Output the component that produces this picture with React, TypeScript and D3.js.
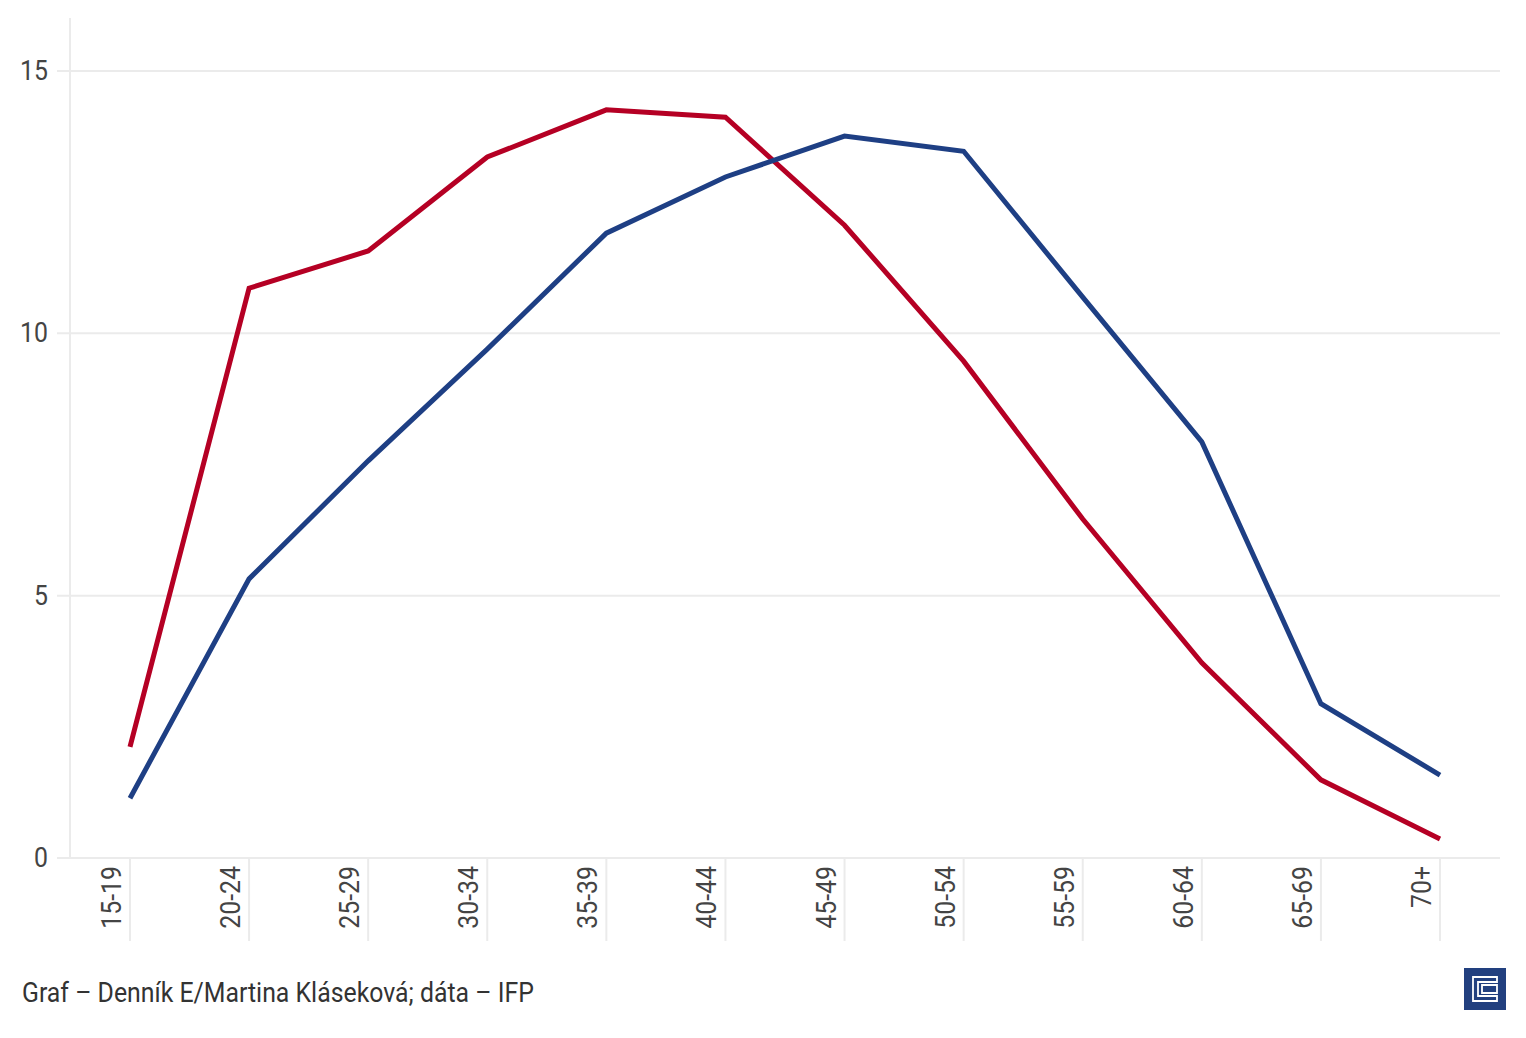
import * as d3 from "d3";

const categories = ["15-19", "20-24", "25-29", "30-34", "35-39", "40-44", "45-49", "50-54", "55-59", "60-64", "65-69", "70+"];
const redValues = [2.12, 10.86, 11.57, 13.36, 14.26, 14.12, 12.06, 9.47, 6.46, 3.72, 1.49, 0.36];
const blueValues = [1.14, 5.32, 7.57, 9.7, 11.91, 12.98, 13.76, 13.47, 10.69, 7.93, 2.94, 1.58];
const yTicks = [0, 5, 10, 15];
const source = "Graf – Denník E/Martina Kláseková; dáta – IFP";

const W = 1526;
const H = 1038;
const FONT = "Roboto, 'Noto Sans', sans-serif";
const SX = 0.92;

const App = () => {
  const x = d3
    .scalePoint<string>()
    .domain(categories)
    .range([130, 1440]);

  const y = d3.scaleLinear().domain([0, 15]).range([858, 71]);

  const line = d3
    .line<number>()
    .x((_, i) => x(categories[i]) as number)
    .y((d) => y(d));

  return (
    <svg width={W} height={H} viewBox={`0 0 ${W} ${H}`} style={{ display: "block", position: "absolute", left: 0, top: 0, background: "#fff" }}>
      {/* grid */}
      {yTicks.map((t) => (
        <g key={t}>
          <line x1={57} x2={1500} y1={y(t)} y2={y(t)} stroke="#ebebeb" strokeWidth={2} />
          <text
            transform={`translate(48,${y(t) + 9}) scale(${SX},1)`}
            textAnchor="end"
            fontFamily={FONT}
            fontSize={27}
            fill="#444"
          >
            {t}
          </text>
        </g>
      ))}
      <line x1={70} x2={70} y1={18} y2={858} stroke="#ebebeb" strokeWidth={2} />

      {/* x ticks */}
      {categories.map((c) => {
        const cx = x(c) as number;
        return (
          <g key={c}>
            <line x1={cx} x2={cx} y1={858} y2={941} stroke="#ebebeb" strokeWidth={2} />
            <text
              transform={`translate(${cx - 9},866) rotate(-90) scale(${SX},1)`}
              textAnchor="end"
              fontFamily={FONT}
              fontSize={27}
              fill="#444"
            >
              {c}
            </text>
          </g>
        );
      })}

      {/* series */}
      <path d={line(redValues) ?? ""} fill="none" stroke="#b50024" strokeWidth={5} />
      <path d={line(blueValues) ?? ""} fill="none" stroke="#1e3f84" strokeWidth={5} />

      {/* source */}
      <text transform={`translate(22,1002) scale(${SX},1)`} fontFamily={FONT} fontSize={27} fill="#333">
        {source}
      </text>

      {/* logo */}
      <g>
        <rect x={1464} y={968} width={42} height={42} fill="#22407f" />
        <path
          d="M1473 977 H1497 V982 H1478 V996 H1497 V1001 H1473 Z M1482 985 H1497 V993 H1482 Z"
          fill="none"
          stroke="#fff"
          strokeWidth={1.8}
        />
      </g>
    </svg>
  );
};

export default App;
